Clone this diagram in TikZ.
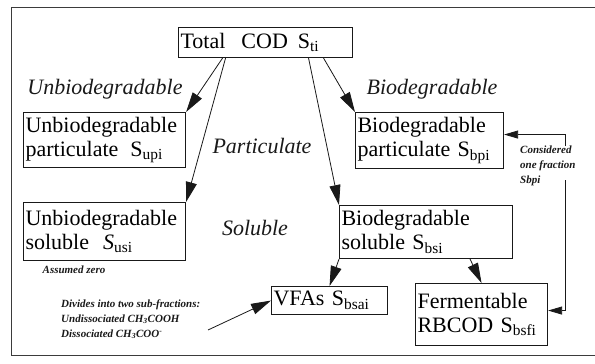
\documentclass[tikz,border=0pt]{standalone}
\usepackage{fontspec}
\setmainfont{Liberation Serif}
\usepackage{tikz}
\usetikzlibrary{arrows.meta, positioning}
\definecolor{InkColor}{RGB}{25,25,25}
\newcommand{\boxfont}{\fontsize{22}{24}\selectfont}
\newcommand{\notefont}{\fontsize{11}{15}\selectfont}

\begin{document}
\begin{tikzpicture}[x=1pt, y=-1pt,
    codbox/.style={draw=InkColor, line width=1.1pt, align=left, inner sep=2pt, anchor=north west, font=\boxfont},
    lbl/.style={font=\boxfont\itshape, text=InkColor},
    note/.style={font=\notefont\bfseries\itshape, align=left, text=InkColor, inner sep=1pt},
    arr/.style={-{Triangle[length=20pt,width=11pt]}, line width=0.8pt, draw=InkColor},
    smallarr/.style={-{Triangle[length=14pt,width=8pt]}, line width=0.8pt, draw=InkColor}]
  \useasboundingbox (0,0) rectangle (595,364);
  % outer frame (open on the right)
  \draw[line width=0.8pt, InkColor!85] (595,7) -- (11,7) -- (11,355) -- (595,355);

  % COD fractions
  \node[codbox, text width=170pt, minimum height=30pt] (total) at (178,27) {Total\hspace{16pt}COD\hspace{10pt}S\textsubscript{ti}};
  \node[codbox, text width=158pt, minimum height=55pt] (upart) at (23,112) {Unbiodegradable\\particulate\hspace{12pt}S\textsubscript{upi}};
  \node[codbox, text width=158pt, minimum height=58pt] (usol) at (23,202) {Unbiodegradable\\soluble\hspace{14pt}\textit{S}\textsubscript{usi}};
  \node[codbox, text width=144pt, minimum height=56pt] (bpart) at (355,112) {Biodegradable\\particulate S\textsubscript{bpi}};
  \node[codbox, text width=169pt, minimum height=53pt] (bsol) at (339,205) {Biodegradable\\soluble S\textsubscript{bsi}};
  \node[codbox, text width=112pt, minimum height=28pt] (vfa) at (271,286) {VFAs S\textsubscript{bsai}};
  \node[codbox, text width=128pt, minimum height=62pt] (ferm) at (415,283) {Fermentable\\RBCOD S\textsubscript{bsfi}};

  % branch labels
  \node[lbl] (lunbio) at (105,89) {Unbiodegradable};
  \node[lbl] (lbio) at (432,89) {Biodegradable};
  \node[lbl] (lpart) at (262,146) {Particulate};
  \node[lbl] (lsol) at (255,228) {Soluble};

  % small remarks
  \node[note, anchor=north] (zero) at (74,265) {Assumed zero};
  \node[note, anchor=west] (divides) at (60,319) {Divides into two sub-fractions:\\Undissociated CH\textsubscript{3}COOH\\Dissociated CH\textsubscript{3}COO\textsuperscript{-}};
  \node[note, anchor=north west] (onefrac) at (519,145) {Considered\\one fraction\\Sbpi};

  \coordinate (dtail) at (208,330);
  \coordinate (fractop) at (565,146);
  \coordinate (fracbot) at (565,180);

  % splitting arrows
  \draw[arr] ([xshift=-43pt]total.south) -- (upart.north east);
  \draw[arr] ([xshift=-40pt]total.south) -- (usol.north east);
  \draw[arr] ([xshift=43pt]total.south) -- (bsol.north west);
  \draw[arr] ([xshift=58pt]total.south) -- (bpart.north west);
  \draw[arr] (bsol.south west) -- (vfa.north);
  \draw[arr] ([xshift=44pt]bsol.south) -- (ferm.north);
  \draw[arr] (dtail) -- (vfa.west);
  \draw[smallarr] (fractop) |- ([yshift=6pt]bpart.east);
  \draw[smallarr] (fracbot) |- ([yshift=4pt]ferm.east);
\end{tikzpicture}
\end{document}
